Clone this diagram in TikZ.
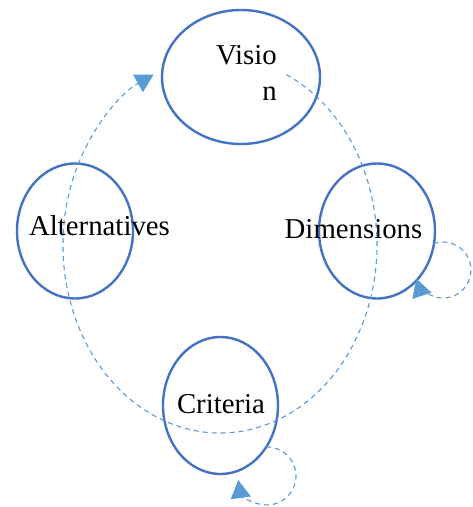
\documentclass[tikz,border=0pt]{standalone}
\usepackage{fontspec}
\setmainfont{Liberation Serif}
\usetikzlibrary{arrows.meta,shapes.geometric}

\definecolor{ringblue}{HTML}{4472C4}
\definecolor{flowblue}{HTML}{5B9BD5}

\begin{document}
\begin{tikzpicture}[
  x=1pt, y=1pt,
  stage/.style={draw=ringblue, line width=2.4pt, ellipse, inner sep=0pt},
  lbl/.style={font=\fontsize{28.8}{36}\selectfont, inner sep=0pt},
  flow/.style={draw=flowblue, line width=1.1pt, dash pattern=on 5pt off 4pt,
    -{Triangle[length=18pt, width=20pt, fill=flowblue]}},
]
  \useasboundingbox[fill=white] (0,0) rectangle (473,507);

  % Stages
  \node[stage, minimum width=158pt, minimum height=134pt] (vision) at (241,430) {};
  \node[stage, minimum width=116pt, minimum height=135pt] (alt) at (75,276) {};
  \node[stage, minimum width=116pt, minimum height=135pt] (dim) at (377,276) {};
  \node[stage, minimum width=115pt, minimum height=137pt] (crit) at (220.5,101.5) {};

  % Labels
  \node[lbl, align=right, anchor=base east] (tvision) at (277,406) {Visio\\n};
  \node[lbl, anchor=base] (talt) at (99.5,271) {Alternatives};
  \node[lbl, anchor=base] (tdim) at (353.5,268) {Dimensions};
  \node[lbl, anchor=base] (tcrit) at (221,93) {Criteria};

  % Main cycle
  \coordinate (cycle) at (220,262);
  \draw[flow] ([shift={(65:157 and 188)}]cycle)
    arc[start angle=65, end angle=-245, x radius=157, y radius=188];

  % Self loops
  \coordinate (dimloop) at (443,237);
  \draw[flow] ([shift={(110:28)}]dimloop) arc[start angle=110, end angle=-162, radius=28];
  \coordinate (critloop) at (267,31);
  \draw[flow] ([shift={(92:29)}]critloop) arc[start angle=92, end angle=-172, radius=29];
\end{tikzpicture}
\end{document}
